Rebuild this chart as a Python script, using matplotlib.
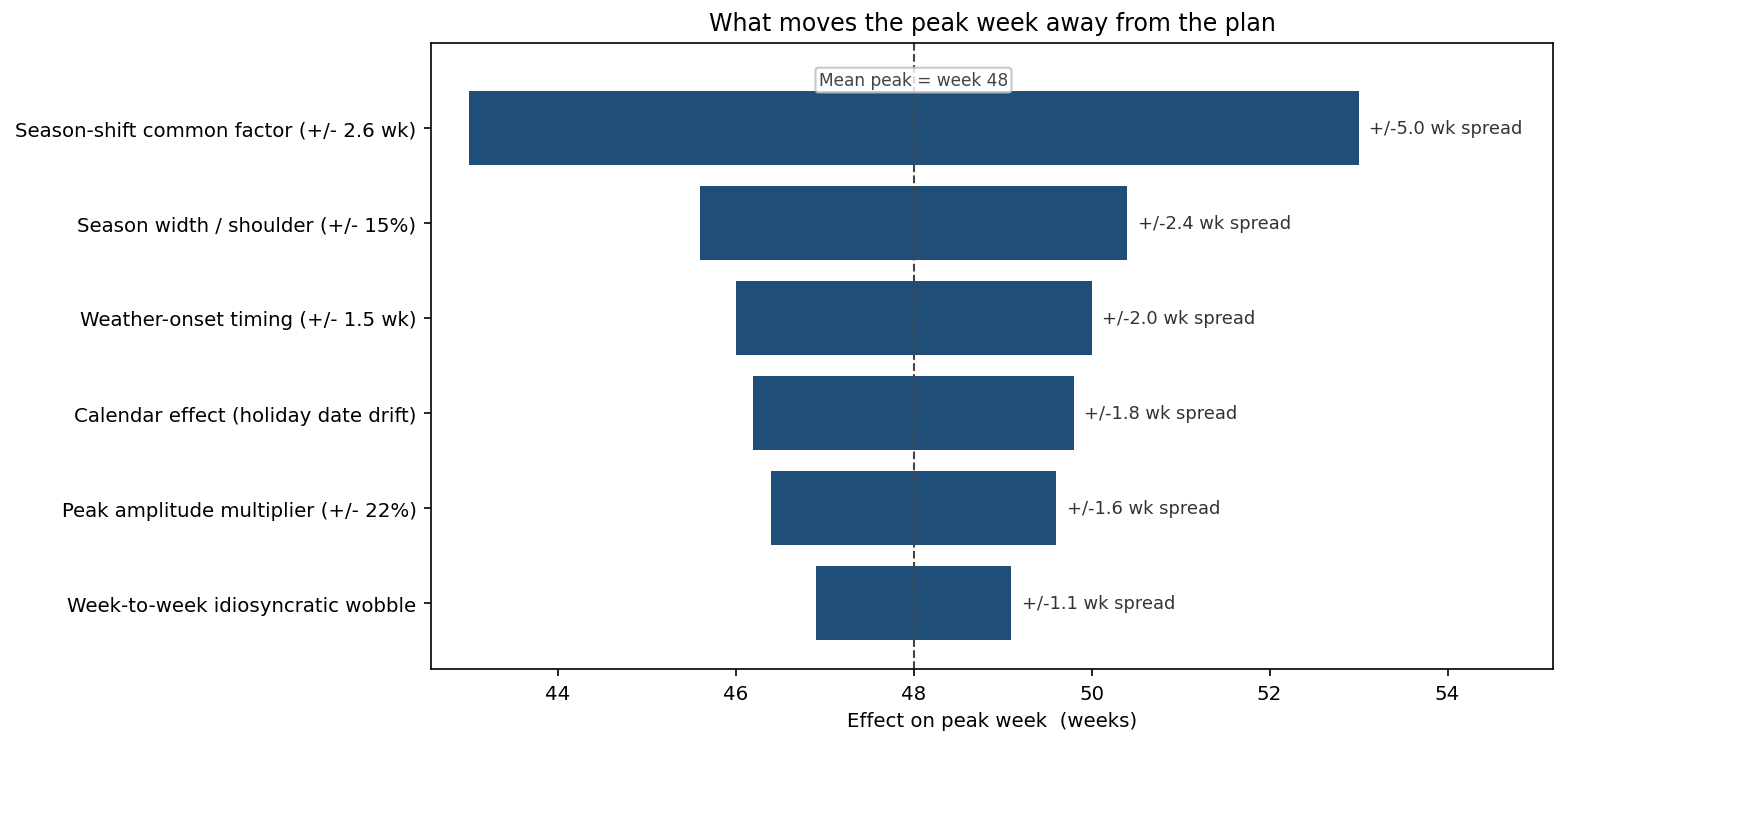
import matplotlib
matplotlib.use('Agg')
import matplotlib.pyplot as plt

# Datos del gráfico tornado
factores = ['Season-shift common factor (+/- 2.6 wk)',
            'Season width / shoulder (+/- 15%)',
            'Weather-onset timing (+/- 1.5 wk)',
            'Calendar effect (holiday date drift)',
            'Peak amplitude multiplier (+/- 22%)',
            'Week-to-week idiosyncratic wobble']
bajo = [43.0, 45.6, 46.0, 46.2, 46.4, 46.9]
alto = [53.0, 50.4, 50.0, 49.8, 49.6, 49.1]
spread = [5.0, 2.4, 2.0, 1.8, 1.6, 1.1]
media = 48

fig, ax = plt.subplots(figsize=(11.75, 5.56), dpi=150)

y = list(range(len(factores)))
anchos = [a - b for a, b in zip(alto, bajo)]
ax.barh(y, anchos, left=bajo, height=0.78, color='#1f4e79', linewidth=0)

for yi, a, s in zip(y, alto, spread):
    ax.text(a + 0.12, yi, f'+/-{s:.1f} wk spread', va='center', ha='left',
            fontsize=8.6, color='#333333')

ax.axvline(media, color='#444444', linestyle='--', linewidth=1)
ax.text(media, -0.5, f'Mean peak = week {media}', ha='center', va='center',
        fontsize=8.2, color='#444444',
        bbox=dict(boxstyle='round,pad=0.2', facecolor='white', alpha=0.8,
                  edgecolor='#bbbbbb'))

ax.set_yticks(y)
ax.set_yticklabels(factores, fontsize=9.5)
ax.set_ylim(5.69, -0.89)
ax.set_xlim(42.58, 55.19)
ax.set_xticks([44, 46, 48, 50, 52, 54])
ax.tick_params(axis='x', labelsize=9.5)
ax.set_xlabel('Effect on peak week  (weeks)', fontsize=9.5)
ax.set_title('What moves the peak week away from the plan', fontsize=11.4)

fig.subplots_adjust(left=431 / 1762, right=1553 / 1762,
                    top=1 - 44 / 834, bottom=1 - 670 / 834)
fig.savefig('out.png', dpi=150)
